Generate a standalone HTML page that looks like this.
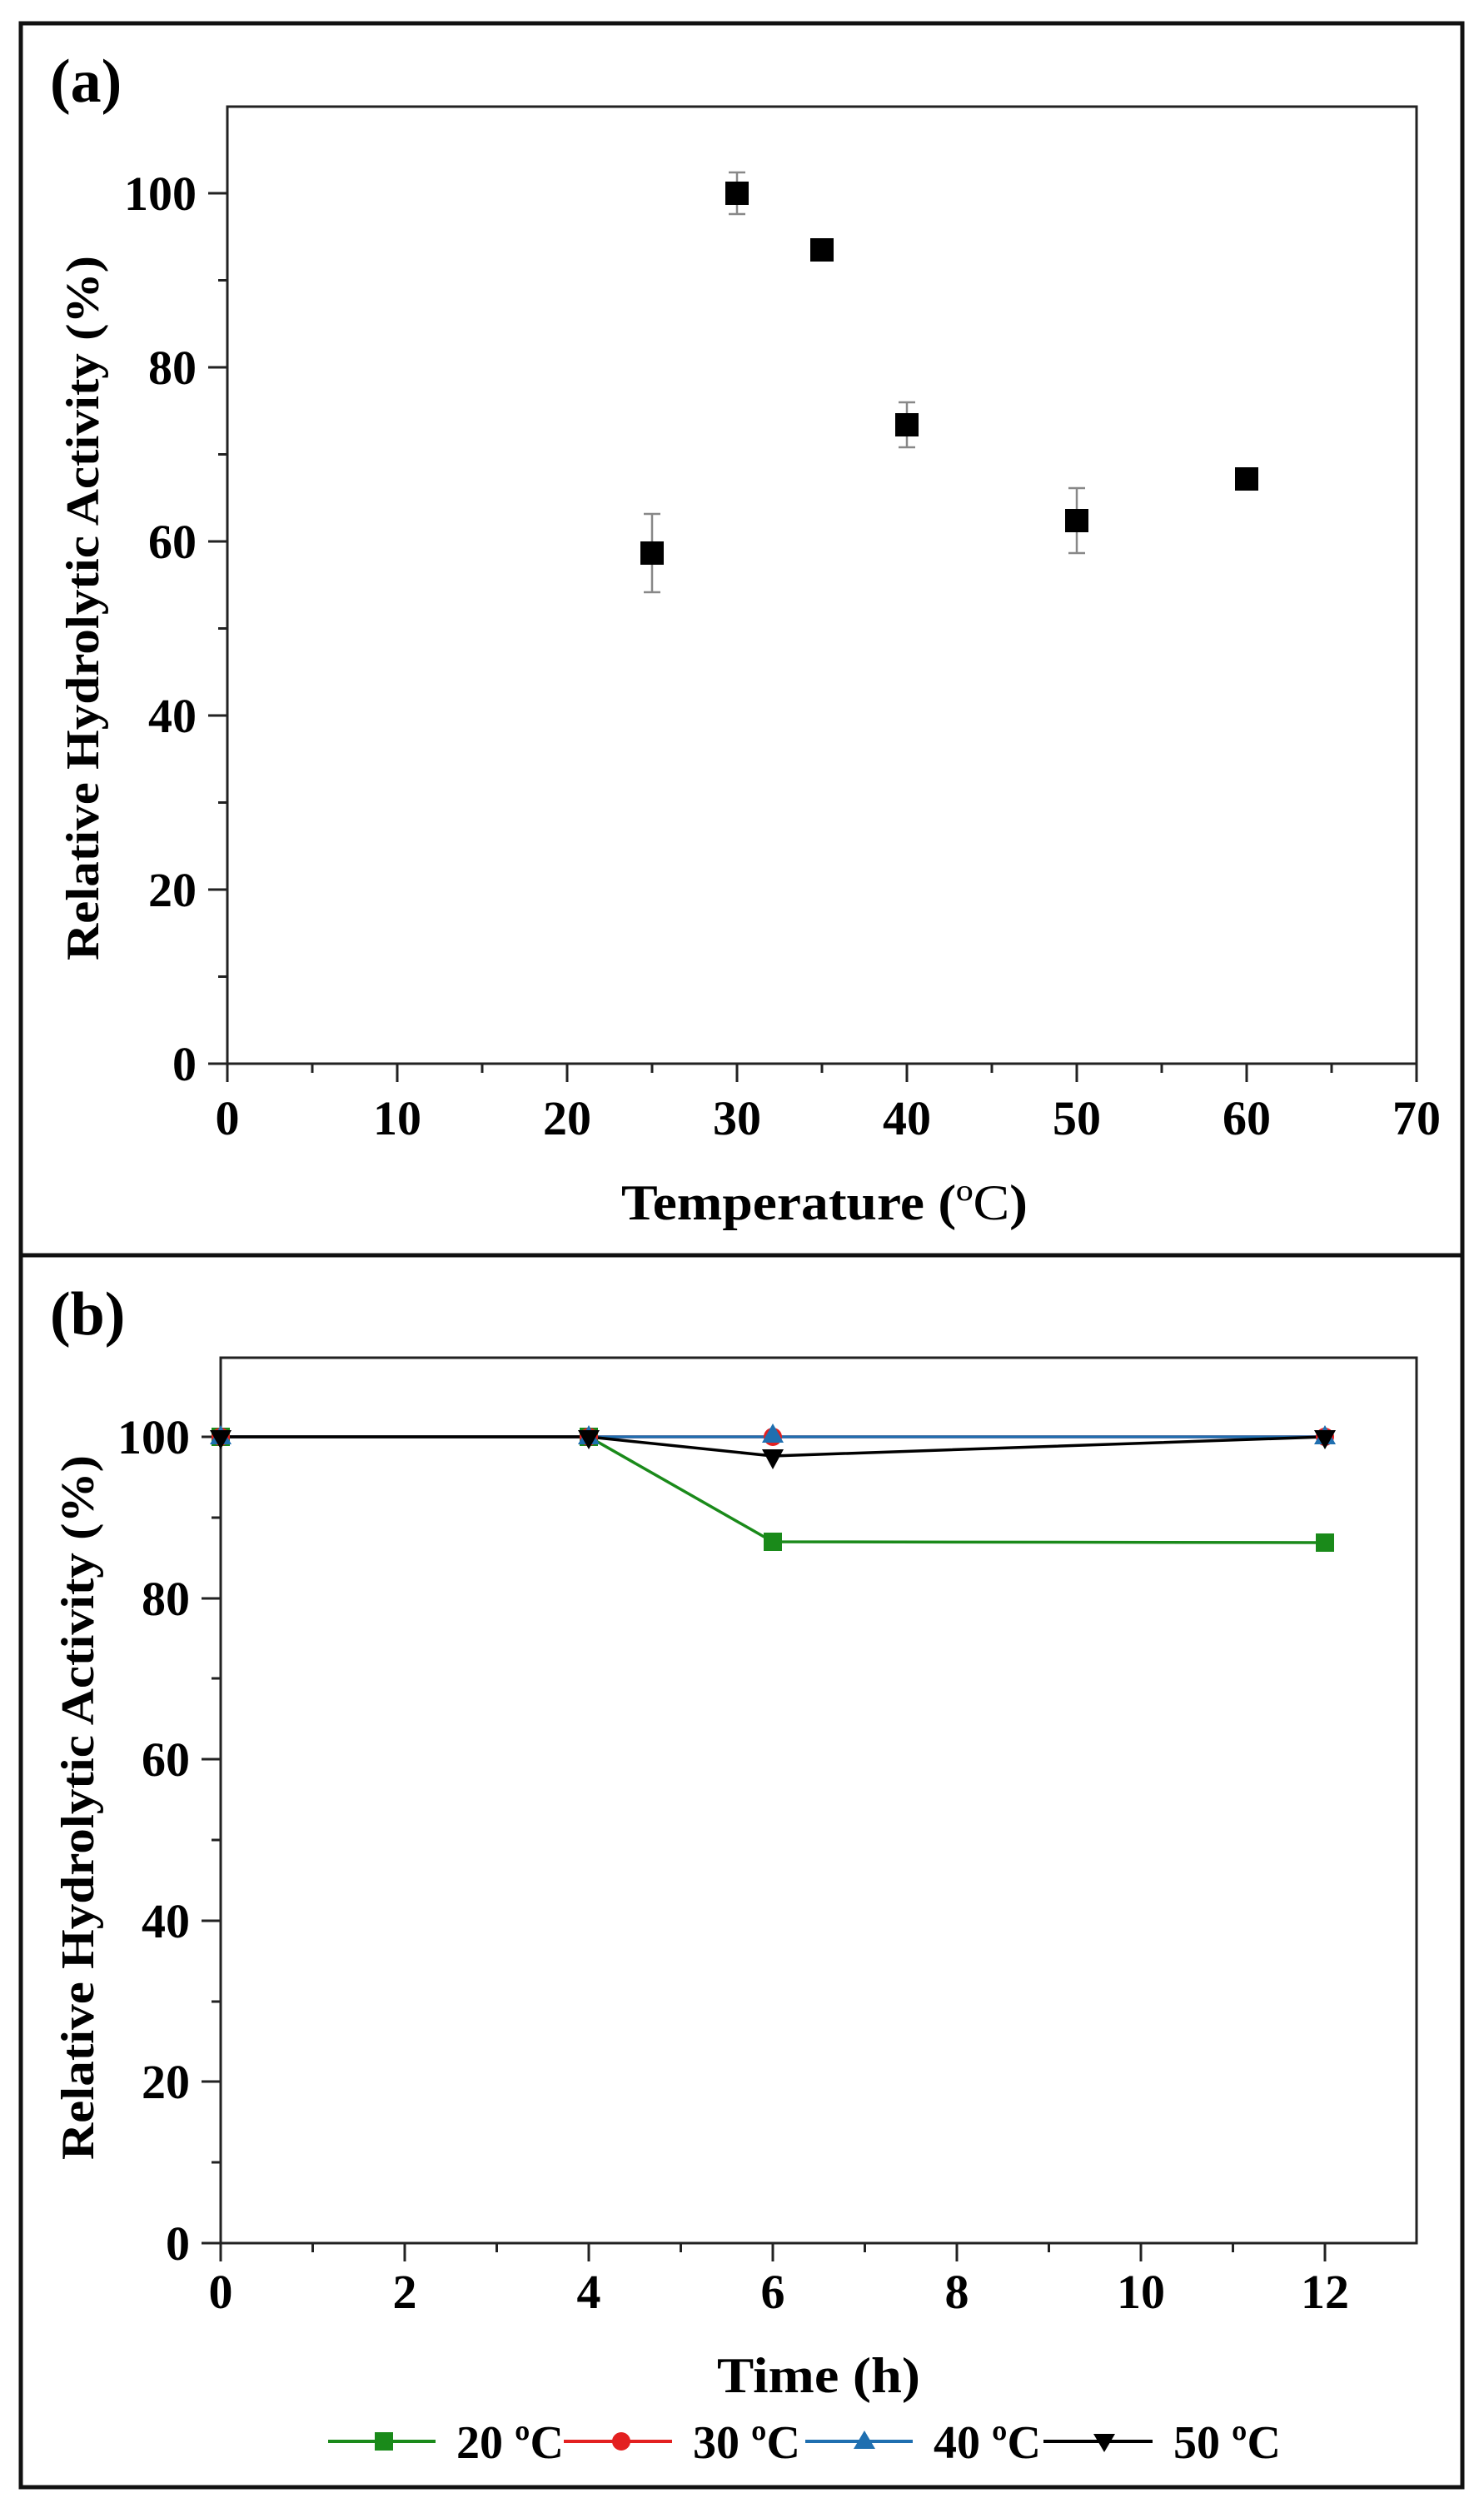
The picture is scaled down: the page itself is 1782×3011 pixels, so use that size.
<!DOCTYPE html>
<html><head><meta charset="utf-8"><style>html,body{margin:0;padding:0;background:#fff}svg{display:block}text{font-family:"Liberation Serif",serif;font-weight:bold;fill:#000}</style></head>
<body>
<svg width="1782" height="3011" viewBox="0 0 1782 3011" xmlns="http://www.w3.org/2000/svg">
<rect x="0" y="0" width="1782" height="3011" fill="#fff"/>
<rect x="25" y="28" width="1731" height="2958" fill="none" stroke="#111" stroke-width="5"/>
<line x1="25" y1="1507" x2="1756" y2="1507" stroke="#111" stroke-width="5"/>

<!-- ===== Panel a ===== -->
<text x="60" y="122" font-size="74">(a)</text>
<rect x="273" y="128" width="1428" height="1149" fill="none" stroke="#222" stroke-width="3"/>
<g stroke="#222" stroke-width="3">
<line x1="250" y1="1277" x2="273" y2="1277"/><line x1="262" y1="1172.5" x2="273" y2="1172.5"/>
<line x1="250" y1="1068" x2="273" y2="1068"/><line x1="262" y1="963.5" x2="273" y2="963.5"/>
<line x1="250" y1="859" x2="273" y2="859"/><line x1="262" y1="754.5" x2="273" y2="754.5"/>
<line x1="250" y1="650" x2="273" y2="650"/><line x1="262" y1="545.5" x2="273" y2="545.5"/>
<line x1="250" y1="441" x2="273" y2="441"/><line x1="262" y1="336.5" x2="273" y2="336.5"/>
<line x1="250" y1="232" x2="273" y2="232"/>
<line x1="273" y1="1277" x2="273" y2="1299"/><line x1="375" y1="1277" x2="375" y2="1288"/>
<line x1="477" y1="1277" x2="477" y2="1299"/><line x1="579" y1="1277" x2="579" y2="1288"/>
<line x1="681" y1="1277" x2="681" y2="1299"/><line x1="783" y1="1277" x2="783" y2="1288"/>
<line x1="885" y1="1277" x2="885" y2="1299"/><line x1="987" y1="1277" x2="987" y2="1288"/>
<line x1="1089" y1="1277" x2="1089" y2="1299"/><line x1="1191" y1="1277" x2="1191" y2="1288"/>
<line x1="1293" y1="1277" x2="1293" y2="1299"/><line x1="1395" y1="1277" x2="1395" y2="1288"/>
<line x1="1497" y1="1277" x2="1497" y2="1299"/><line x1="1599" y1="1277" x2="1599" y2="1288"/>
<line x1="1701" y1="1277" x2="1701" y2="1299"/>
</g>
<g font-size="58" text-anchor="end">
<text x="236" y="1297">0</text><text x="236" y="1088">20</text><text x="236" y="879">40</text>
<text x="236" y="670">60</text><text x="236" y="461">80</text><text x="236" y="252">100</text>
</g>
<g font-size="58" text-anchor="middle">
<text x="273" y="1362">0</text><text x="477" y="1362">10</text><text x="681" y="1362">20</text>
<text x="885" y="1362">30</text><text x="1089" y="1362">40</text><text x="1293" y="1362">50</text>
<text x="1497" y="1362">60</text><text x="1701" y="1362">70</text>
</g>
<text x="746" y="1464" font-size="60" textLength="488" lengthAdjust="spacingAndGlyphs">Temperature (<tspan font-weight="normal">ºC</tspan>)</text>
<text transform="translate(118,730) rotate(-90)" font-size="56" text-anchor="middle" textLength="846" lengthAdjust="spacingAndGlyphs">Relative Hydrolytic Activity (%)</text>
<g stroke="#888" stroke-width="2.5">
<line x1="783" y1="617" x2="783" y2="711"/><line x1="773" y1="617" x2="793" y2="617"/><line x1="773" y1="711" x2="793" y2="711"/>
<line x1="885" y1="207" x2="885" y2="257"/><line x1="875" y1="207" x2="895" y2="207"/><line x1="875" y1="257" x2="895" y2="257"/>
<line x1="1089" y1="483" x2="1089" y2="537"/><line x1="1079" y1="483" x2="1099" y2="483"/><line x1="1079" y1="537" x2="1099" y2="537"/>
<line x1="1293" y1="586" x2="1293" y2="664"/><line x1="1283" y1="586" x2="1303" y2="586"/><line x1="1283" y1="664" x2="1303" y2="664"/>
</g>
<g fill="#000">
<rect x="769" y="650" width="28" height="28"/>
<rect x="871" y="218" width="28" height="28"/>
<rect x="973" y="286" width="28" height="28"/>
<rect x="1075" y="496" width="28" height="28"/>
<rect x="1279" y="611" width="28" height="28"/>
<rect x="1483" y="561" width="28" height="28"/>
</g>

<!-- ===== Panel b ===== -->
<text x="60" y="1602" font-size="74">(b)</text>
<rect x="265" y="1630" width="1436" height="1063" fill="none" stroke="#222" stroke-width="3"/>
<g stroke="#222" stroke-width="3">
<line x1="242" y1="2693" x2="265" y2="2693"/><line x1="254" y1="2596" x2="265" y2="2596"/>
<line x1="242" y1="2499" x2="265" y2="2499"/><line x1="254" y1="2403" x2="265" y2="2403"/>
<line x1="242" y1="2306" x2="265" y2="2306"/><line x1="254" y1="2209" x2="265" y2="2209"/>
<line x1="242" y1="2112" x2="265" y2="2112"/><line x1="254" y1="2015" x2="265" y2="2015"/>
<line x1="242" y1="1919" x2="265" y2="1919"/><line x1="254" y1="1822" x2="265" y2="1822"/>
<line x1="242" y1="1725" x2="265" y2="1725"/>
<line x1="265" y1="2693" x2="265" y2="2715"/><line x1="375.5" y1="2693" x2="375.5" y2="2704"/>
<line x1="486" y1="2693" x2="486" y2="2715"/><line x1="596.5" y1="2693" x2="596.5" y2="2704"/>
<line x1="707" y1="2693" x2="707" y2="2715"/><line x1="817.5" y1="2693" x2="817.5" y2="2704"/>
<line x1="928" y1="2693" x2="928" y2="2715"/><line x1="1038.5" y1="2693" x2="1038.5" y2="2704"/>
<line x1="1149" y1="2693" x2="1149" y2="2715"/><line x1="1259.5" y1="2693" x2="1259.5" y2="2704"/>
<line x1="1370" y1="2693" x2="1370" y2="2715"/><line x1="1480.5" y1="2693" x2="1480.5" y2="2704"/>
<line x1="1591" y1="2693" x2="1591" y2="2715"/>
</g>
<g font-size="58" text-anchor="end">
<text x="228" y="2713">0</text><text x="228" y="2519">20</text><text x="228" y="2326">40</text>
<text x="228" y="2132">60</text><text x="228" y="1939">80</text><text x="228" y="1745">100</text>
</g>
<g font-size="58" text-anchor="middle">
<text x="265" y="2771">0</text><text x="486" y="2771">2</text><text x="707" y="2771">4</text>
<text x="928" y="2771">6</text><text x="1149" y="2771">8</text><text x="1370" y="2771">10</text>
<text x="1591" y="2771">12</text>
</g>
<text x="861" y="2872" font-size="60" textLength="244" lengthAdjust="spacingAndGlyphs">Time (h)</text>
<text transform="translate(112,2170) rotate(-90)" font-size="56" text-anchor="middle" textLength="846" lengthAdjust="spacingAndGlyphs">Relative Hydrolytic Activity (%)</text>
<polyline points="265,1725 707,1725 928,1851 1591,1852" fill="none" stroke="#1a8a1a" stroke-width="3.5"/>
<polyline points="265,1725 707,1725 928,1725 1591,1725" fill="none" stroke="#e32020" stroke-width="3.5"/>
<polyline points="265,1725 707,1725 928,1725 1591,1725" fill="none" stroke="#1f6fb0" stroke-width="3.5"/>
<polyline points="265,1725 707,1725 928,1748 1591,1725" fill="none" stroke="#000" stroke-width="3.5"/>
<g fill="#1a8a1a"><rect x="254" y="1714" width="22" height="22"/><rect x="696" y="1714" width="22" height="22"/><rect x="917" y="1840" width="22" height="22"/><rect x="1580" y="1841" width="22" height="22"/></g>
<g fill="#e32020"><circle cx="265" cy="1725" r="11"/><circle cx="707" cy="1725" r="11"/><circle cx="928" cy="1725" r="11"/><circle cx="1591" cy="1725" r="11"/></g>
<g fill="#1f6fb0"><polygon points="265,1711 278,1734 252,1734"/><polygon points="707,1711 720,1734 694,1734"/><polygon points="928,1709 941,1732 915,1732"/><polygon points="1591,1711 1604,1734 1578,1734"/></g>
<g fill="#000"><polygon points="252,1717 278,1717 265,1740"/><polygon points="694,1717 720,1717 707,1740"/><polygon points="915,1740 941,1740 928,1764"/><polygon points="1578,1717 1604,1717 1591,1740"/></g>
<line x1="394" y1="2931" x2="523" y2="2931" stroke="#1a8a1a" stroke-width="4"/>
<rect x="450" y="2920" width="22" height="22" fill="#1a8a1a"/>
<text x="548" y="2951" font-size="56">20 ºC</text>
<line x1="677" y1="2931" x2="807" y2="2931" stroke="#e32020" stroke-width="4"/>
<circle cx="746" cy="2931" r="11" fill="#e32020"/>
<text x="832" y="2951" font-size="56">30 ºC</text>
<line x1="967" y1="2931" x2="1096" y2="2931" stroke="#1f6fb0" stroke-width="4"/>
<polygon points="1038,2918 1051,2940 1025,2940" fill="#1f6fb0"/>
<text x="1121" y="2951" font-size="56">40 ºC</text>
<line x1="1253" y1="2931" x2="1384" y2="2931" stroke="#000" stroke-width="4"/>
<polygon points="1313,2922 1339,2922 1326,2944" fill="#000"/>
<text x="1409" y="2951" font-size="56">50 ºC</text>
</svg>
</body></html>
